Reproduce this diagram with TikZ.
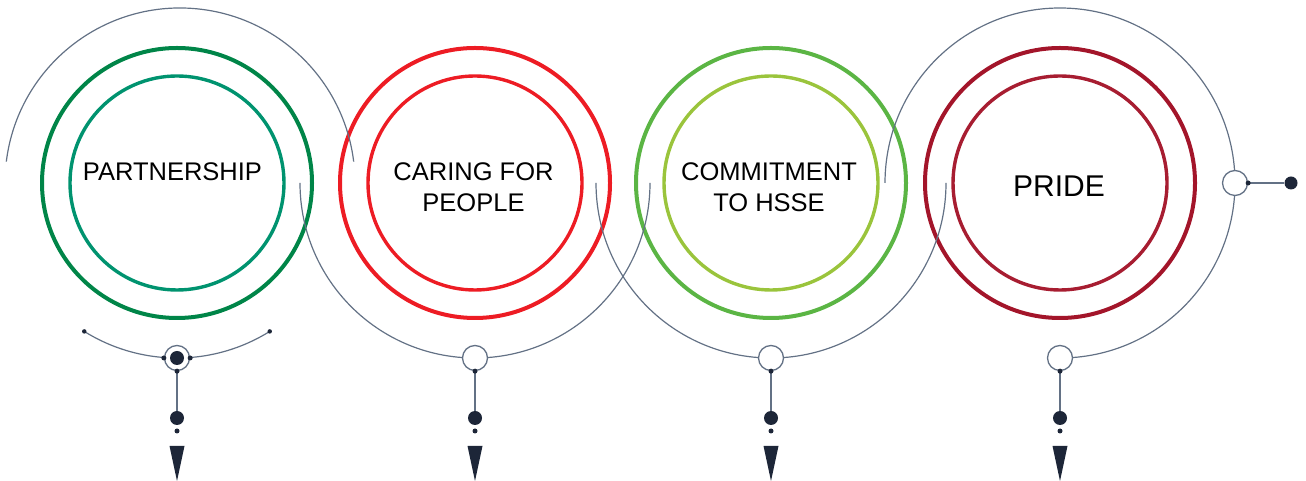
\documentclass[tikz,border=0pt]{standalone}
\usepackage{fontspec}
\setmainfont{Liberation Sans}
\usetikzlibrary{positioning}

\definecolor{track}{HTML}{637185}
\definecolor{navy}{HTML}{1D2638}
\definecolor{greenA}{HTML}{008548}
\definecolor{greenB}{HTML}{00936F}
\definecolor{redA}{HTML}{ED1C24}
\definecolor{limeA}{HTML}{5BB544}
\definecolor{limeB}{HTML}{9AC43C}
\definecolor{wineA}{HTML}{A3152A}
\definecolor{wineB}{HTML}{A71D31}

\tikzset{
  ring/.style={circle, draw, inner sep=0pt},
  rail/.style={draw=track, line width=1.2pt},
  hub/.style={circle, draw=track, line width=1.3pt, fill=white, minimum size=25pt, inner sep=0pt},
  blob/.style={circle, fill=navy, minimum size=14pt, inner sep=0pt},
  pin/.style={circle, fill=navy, minimum size=5pt, inner sep=0pt},
  valtext/.style={align=center, font=\fontsize{25.5pt}{31pt}\selectfont}
}

\begin{document}
\begin{tikzpicture}[x=1pt, y=1pt]
  \useasboundingbox (0,0) rectangle (1306,481);

  % the four value rings
  \foreach \n/\x/\outc/\innc in {1/177/greenA/greenB, 2/475/redA/redA, 3/771/limeA/limeB, 4/1060/wineA/wineB} {
    \coordinate (p\n) at (\x,298);
    \node[ring, draw=\outc, line width=4pt, minimum size=270pt] (o\n) at (p\n) {};
    \node[ring, draw=\innc, line width=3.4pt, minimum size=214pt] (i\n) at (p\n) {};
  }

  \node[valtext] (t1) at ([shift={(-4.5,11)}]p1) {PARTNERSHIP};
  \node[valtext] (t2) at ([shift={(-1.5,-4.5)}]p2) {CARING FOR\\PEOPLE};
  \node[valtext] (t3) at ([shift={(-2,-4.5)}]p3) {COMMITMENT\\TO HSSE};
  \node[valtext, font=\fontsize{30pt}{36pt}\selectfont] (t4) at ([shift={(-1,-3)}]p4) {PRIDE};

  % thin rails around the rings
  \coordinate (q1) at (180,298);
  \draw[rail] ([shift={(173:175)}]q1) arc[start angle=173, end angle=7, radius=175];
  \draw[rail] ([shift={(238:175)}]p1) coordinate (e1)
    arc[start angle=238, end angle=302, radius=175] coordinate (e2);
  \draw[rail] ([shift={(180:175)}]p2) arc[start angle=180, end angle=360, radius=175];
  \draw[rail] ([shift={(180:175)}]p3) arc[start angle=180, end angle=360, radius=175];
  \draw[rail] ([shift={(180:175)}]p4) arc[start angle=180, end angle=-90, radius=175];

  \node[pin, minimum size=4.5pt] at (e1) {};
  \node[pin, minimum size=4.5pt] at (e2) {};

  % hubs, stems and pointers
  \foreach \n in {1,...,4} {
    \node[hub] (k\n) at ([shift={(270:175)}]p\n) {};
    \node[blob, below=60pt of k\n.center, anchor=center] (d\n) {};
    \node[pin, below=13pt of d\n.center, anchor=center] (s\n) {};
    \draw[rail, line width=1.3pt] (k\n.south) -- (d\n);
    \node[pin] at (k\n.south) {};
    \fill[navy] ([shift={(-7.5,-15)}]s\n.center) -- ([shift={(7.5,-15)}]s\n.center)
      -- ([shift={(0,-50)}]s\n.center) -- cycle;
  }
  \node[blob] at (k1) {};
  \node[pin] at (k1.west) {};
  \node[pin] at (k1.east) {};

  % side branch on the last ring
  \node[hub] (kr) at ([shift={(0:175)}]p4) {};
  \node[blob, minimum size=13pt] (dr) at (1291,298) {};
  \draw[rail, line width=1.3pt] (kr.east) -- (dr);
  \node[pin] at (kr.east) {};
\end{tikzpicture}
\end{document}
